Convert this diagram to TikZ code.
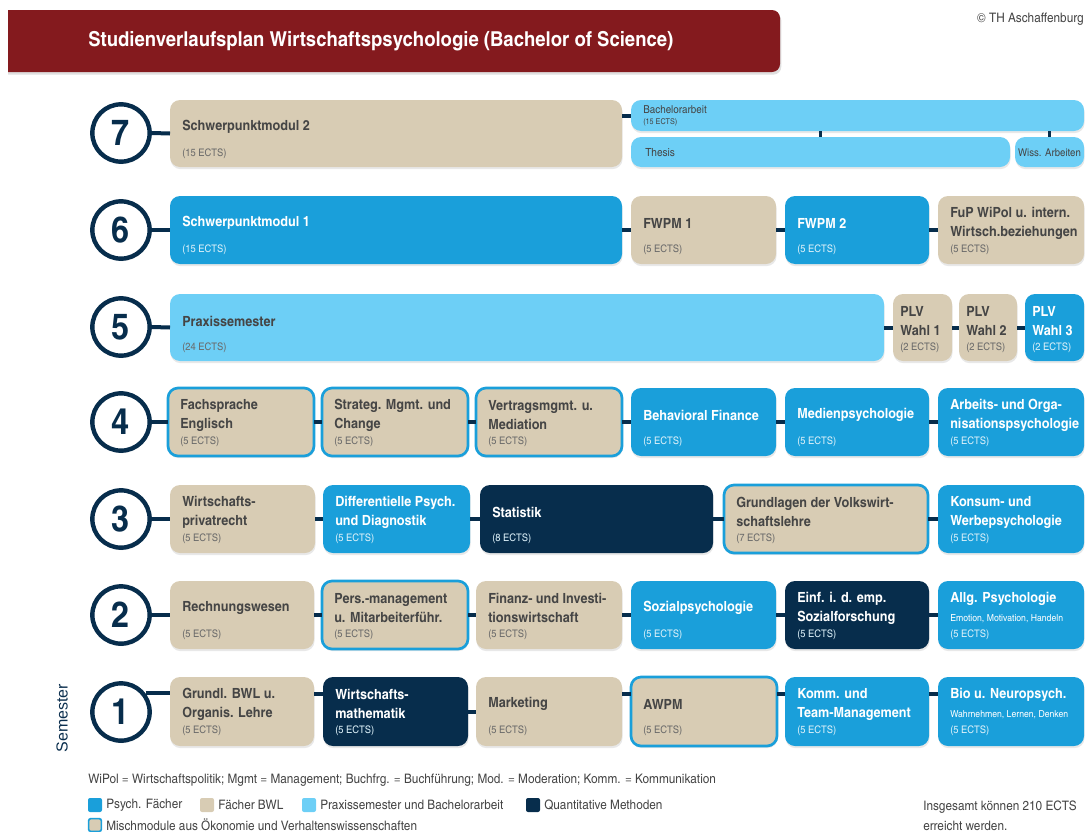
\documentclass[tikz,border=0pt]{standalone}
\usepackage{fontspec}
\setmainfont{texgyreheroscn}[Extension=.otf, UprightFont=*-regular, BoldFont=*-bold, ItalicFont=*-italic, BoldItalicFont=*-bolditalic, FakeStretch=1.1]
\newfontfamily\semfont{Liberation Sans}
\usetikzlibrary{shadows}
\definecolor{psych}{HTML}{1A9FDA}
\definecolor{bwl}{HTML}{D8CCB4}
\definecolor{prax}{HTML}{6DCFF6}
\definecolor{quant}{HTML}{072D4C}
\definecolor{titlered}{HTML}{841A1E}
\definecolor{darktxt}{HTML}{454545}
\definecolor{greytxt}{HTML}{6A6A6A}
\definecolor{navytxt}{HTML}{0B2F4E}
\tikzset{
  modbox/.style={rounded corners=7.5pt, inner sep=0pt, outer sep=0pt,
    drop shadow={shadow xshift=0.4pt, shadow yshift=-1.6pt, opacity=0.18}},
  psychbox/.style={modbox, fill=psych},
  bwlbox/.style={modbox, fill=bwl},
  praxbox/.style={modbox, fill=prax},
  quantbox/.style={modbox, fill=quant},
  mixbox/.style={modbox, fill=bwl, draw=psych, line width=2pt},
  light title/.style={inner sep=0pt, align=left, text=darktxt, font=\bfseries\fontsize{10.5}{14.25}\selectfont},
  light ects/.style={inner sep=0pt, text=greytxt, font=\fontsize{7.8}{9}\selectfont},
  dark title/.style={inner sep=0pt, align=left, text=white, font=\bfseries\fontsize{10.5}{14.25}\selectfont},
  dark ects/.style={inner sep=0pt, text=white!85!psych, font=\fontsize{7.8}{9}\selectfont},
  semcircle/.style={circle, draw=quant, line width=3.3pt, fill=white, minimum size=43pt, inner sep=0pt,
    text=quant, font=\bfseries\fontsize{27}{30}\selectfont,
    drop shadow={shadow xshift=0.6pt, shadow yshift=-1.8pt, opacity=0.2}},
  conn/.style={draw=quant, line width=3pt},
  tickc/.style={draw=quant, line width=2.5pt},
  legsq/.style={rounded corners=1.5pt, minimum size=10.5pt, inner sep=0pt},
  legtxt/.style={inner sep=0pt, anchor=west, text=darktxt, font=\fontsize{9.8}{11}\selectfont},
}
\newcommand\modul[9]{%
  \node[#2, minimum width={(#5-#3)*0.75pt}, minimum height={(#6-#4)*0.75pt}, anchor=north west] (#1) at (#3,#4) {};
  \node[#9 title, anchor=west] (#1-t) at (#3+12,#4+27) {#7};
  \node[#9 ects, anchor=west] (#1-e) at (#3+12,#4+54) {#8};
}
\newcommand\subline[1]{{\mdseries\fontsize{7.2}{8}\selectfont #1}}
\begin{document}
\begin{tikzpicture}[x=0.75pt, y=-0.75pt]
\useasboundingbox (0,0) rectangle (1086,832);
% title bar
\begin{scope}
  \clip (8,0) rectangle (800,90);
  \fill[titlered, rounded corners=6pt, drop shadow={shadow xshift=1pt, shadow yshift=-2pt, opacity=0.25}] (-20,10) rectangle (780,72);
\end{scope}
\node[anchor=west, inner sep=0pt, text=white, font=\bfseries\fontsize{15.4}{18}\selectfont] (title) at (88,41) {Studienverlaufsplan Wirtschaftspsychologie (Bachelor of Science)};
\node[anchor=east, inner sep=0pt, text=darktxt, font=\fontsize{9.8}{11}\selectfont] (copy) at (1084,19) {\textcopyright{} TH Aschaffenburg};

% circles
\node[semcircle] (c7) at (121,133) {7};
\node[semcircle] (c6) at (121,230) {6};
\node[semcircle] (c5) at (121,327) {5};
\node[semcircle] (c4) at (121,422) {4};
\node[semcircle] (c3) at (121,519) {3};
\node[semcircle] (c2) at (121,615) {2};
\node[semcircle] (c1) at (121,712) {1};
\node[rotate=90, inner sep=0pt, text=navytxt, font=\semfont\fontsize{12}{14}\selectfont] (sem) at (62,718) {Semester};

% row 7
\modul{s2}{bwlbox}{170}{100}{622}{167}{Schwerpunktmodul 2}{(15 ECTS)}{light}
\node[praxbox, minimum width={453*0.75pt}, minimum height={31*0.75pt}, anchor=north west] (ba) at (631,100) {};
\node[praxbox, minimum width={379*0.75pt}, minimum height={30*0.75pt}, anchor=north west] (th) at (631,137) {};
\node[praxbox, minimum width={69*0.75pt}, minimum height={30*0.75pt}, anchor=north west] (wa) at (1015,137) {};
\node[anchor=west, inner sep=0pt, text=darktxt, font=\fontsize{8.2}{9}\selectfont] (ba-t) at (643,110) {Bachelorarbeit};
\node[anchor=west, inner sep=0pt, text=darktxt, font=\fontsize{6}{7}\selectfont] (ba-e) at (643,122) {(15 ECTS)};
\node[anchor=west, inner sep=0pt, text=darktxt, font=\fontsize{8.4}{10}\selectfont] (th-t) at (645,153) {Thesis};
\node[inner sep=0pt, text=darktxt, font=\fontsize{8}{10}\selectfont] (wa-t) at (1049.5,153) {Wiss. Arbeiten};

% row 6
\modul{s1}{psychbox}{170}{196}{622}{264}{Schwerpunktmodul 1}{(15 ECTS)}{dark}
\modul{fw1}{bwlbox}{631}{196}{776}{264}{FWPM 1}{(5 ECTS)}{light}
\modul{fw2}{psychbox}{785}{196}{929}{264}{FWPM 2}{(5 ECTS)}{dark}
\modul{fup}{bwlbox}{938}{196}{1084}{264}{FuP WiPol u. intern.\\Wirtsch.beziehungen}{(5 ECTS)}{light}

% row 5
\modul{pr}{praxbox}{170}{294}{884}{361}{Praxissemester}{(24 ECTS)}{light}
\node[bwlbox, minimum width={59*0.75pt}, minimum height={67*0.75pt}, anchor=north west] (p1) at (893,294) {};
\node[bwlbox, minimum width={58*0.75pt}, minimum height={67*0.75pt}, anchor=north west] (p2) at (959,294) {};
\node[psychbox, minimum width={59*0.75pt}, minimum height={67*0.75pt}, anchor=north west] (p3) at (1025,294) {};
\node[light title, anchor=west] (p1-t) at (900,321) {PLV\\Wahl 1};
\node[light ects, anchor=west] (p1-e) at (900,348) {(2 ECTS)};
\node[light title, anchor=west] (p2-t) at (966,321) {PLV\\Wahl 2};
\node[light ects, anchor=west] (p2-e) at (966,348) {(2 ECTS)};
\node[dark title, anchor=west] (p3-t) at (1032,321) {PLV\\Wahl 3};
\node[dark ects, anchor=west] (p3-e) at (1032,348) {(2 ECTS)};

% row 4
\modul{b41}{mixbox}{168}{388}{314}{456}{Fachsprache\\Englisch}{(5 ECTS)}{light}
\modul{b42}{mixbox}{322}{388}{468}{456}{Strateg. Mgmt. und\\Change}{(5 ECTS)}{light}
\modul{b43}{mixbox}{476}{388}{622}{456}{Vertragsmgmt. u.\\Mediation}{(5 ECTS)}{light}
\modul{b44}{psychbox}{631}{388}{776}{456}{Behavioral Finance}{(5 ECTS)}{dark}
\modul{b45}{psychbox}{785}{388}{929}{456}{Medienpsychologie}{(5 ECTS)}{dark}
\modul{b46}{psychbox}{938}{388}{1084}{456}{Arbeits- und Orga-\\nisationspsychologie}{(5 ECTS)}{dark}

% row 3
\modul{b31}{bwlbox}{170}{485}{315}{553}{Wirtschafts-\\privatrecht}{(5 ECTS)}{light}
\modul{b32}{psychbox}{323}{485}{470}{553}{Differentielle Psych.\\und Diagnostik}{(5 ECTS)}{dark}
\modul{b33}{quantbox}{480}{485}{713}{553}{Statistik}{(8 ECTS)}{dark}
\modul{b34}{mixbox}{724}{485}{928}{553}{Grundlagen der Volkswirt-\\schaftslehre}{(7 ECTS)}{light}
\modul{b35}{psychbox}{938}{485}{1084}{553}{Konsum- und\\Werbepsychologie}{(5 ECTS)}{dark}

% row 2
\modul{b21}{bwlbox}{170}{581}{314}{649}{Rechnungswesen}{(5 ECTS)}{light}
\modul{b22}{mixbox}{322}{581}{468}{649}{Pers.-management\\u. Mitarbeiterführ.}{(5 ECTS)}{light}
\modul{b23}{bwlbox}{476}{581}{622}{649}{Finanz- und Investi-\\tionswirtschaft}{(5 ECTS)}{light}
\modul{b24}{psychbox}{631}{581}{776}{649}{Sozialpsychologie}{(5 ECTS)}{dark}
\modul{b25}{quantbox}{785}{581}{929}{649}{Einf. i. d. emp.\\Sozialforschung}{(5 ECTS)}{dark}
\modul{b26}{psychbox}{938}{581}{1084}{649}{Allg. Psychologie\\\subline{Emotion, Motivation, Handeln}}{(5 ECTS)}{dark}

% row 1
\modul{b11}{bwlbox}{170}{677}{314}{746}{Grundl. BWL u.\\Organis. Lehre}{(5 ECTS)}{light}
\modul{b12}{quantbox}{323}{677}{468}{746}{Wirtschafts-\\mathematik}{(5 ECTS)}{dark}
\modul{b13}{bwlbox}{476}{677}{622}{746}{Marketing}{(5 ECTS)}{light}
\modul{b14}{mixbox}{631}{677}{777}{746}{AWPM}{(5 ECTS)}{light}
\modul{b15}{psychbox}{785}{677}{929}{746}{Komm. und\\Team-Management}{(5 ECTS)}{dark}
\modul{b16}{psychbox}{938}{677}{1084}{746}{Bio u. Neuropsych.\\\subline{Wahrnehmen, Lernen, Denken}}{(5 ECTS)}{dark}

% connectors
\draw[conn] (c7.east) -- (s2.west);
\draw[conn] (ba.west -| s2.east) -- (ba.west);
\draw[tickc] (th.north |- ba.south) -- (th.north);
\draw[tickc] (wa.north |- ba.south) -- (wa.north);

\draw[conn] (c6.east) -- (s1.west);
\draw[conn] (s1.east) -- (fw1.west);
\draw[conn] (fw1.east) -- (fw2.west);
\draw[conn] (fw2.east) -- (fup.west);

\draw[conn] (c5.east) -- (pr.west);
\draw[conn] (pr.east) -- (p1.west);
\draw[conn] (p1.east) -- (p2.west);
\draw[conn] (p2.east) -- (p3.west);

\draw[conn] (c4.east) -- (b41.west);
\draw[conn] (b41.east) -- (b42.west);
\draw[conn] (b42.east) -- (b43.west);
\draw[conn] (b43.east) -- (b44.west);
\draw[conn] (b44.east) -- (b45.west);
\draw[conn] (b45.east) -- (b46.west);

\draw[conn] (c3.east) -- (b31.west);
\draw[conn] (b31.east) -- (b32.west);
\draw[conn] (b32.east) -- (b33.west);
\draw[conn] (b33.east) -- (b34.west);
\draw[conn] (b34.east) -- (b35.west);

\draw[conn] (c2.east) -- (b21.west);
\draw[conn] (b21.east) -- (b22.west);
\draw[conn] (b22.east) -- (b23.west);
\draw[conn] (b23.east) -- (b24.west);
\draw[conn] (b24.east) -- (b25.west);
\draw[conn] (b25.east) -- (b26.west);

\draw[conn] (c1.37) -- (c1.37 -| b11.west);
\draw[conn] ([yshift=13.5pt]b11.east) -- ([yshift=13.5pt]b12.west);
\draw[conn] (b12.east) -- (b13.west);
\draw[conn] ([yshift=13.5pt]b13.east) -- ([yshift=13.5pt]b14.west);
\draw[conn] ([yshift=13.5pt]b14.east) -- ([yshift=13.5pt]b15.west);
\draw[conn] ([yshift=13.5pt]b15.east) -- ([yshift=13.5pt]b16.west);

% legend
\node[legtxt] (abbr) at (88,780) {WiPol = Wirtschaftspolitik; Mgmt = Management; Buchfrg. = Buchführung; Mod. = Moderation; Komm. = Kommunikation};
\node[legsq, fill=psych] (l1) at (95,805) {};
\node[legtxt] (l1t) at (106,805) {Psych. Fächer};
\node[legsq, fill=bwl] (l2) at (207,805) {};
\node[legtxt] (l2t) at (218,805) {Fächer BWL};
\node[legsq, fill=prax] (l3) at (309,805) {};
\node[legtxt] (l3t) at (320,805) {Praxissemester und Bachelorarbeit};
\node[legsq, fill=quant] (l4) at (533,805) {};
\node[legtxt] (l4t) at (544,805) {Quantitative Methoden};
\node[legsq, fill=bwl, draw=psych, line width=1.2pt, minimum size=9.5pt] (l5) at (95,825) {};
\node[legtxt] (l5t) at (106,825) {Mischmodule aus Ökonomie und Verhaltenswissenschaften};
\node[anchor=west, inner sep=0pt, align=left, text=darktxt, font=\fontsize{9.8}{15}\selectfont] (total) at (923,816) {Insgesamt können 210 ECTS\\erreicht werden.};
\end{tikzpicture}
\end{document}
